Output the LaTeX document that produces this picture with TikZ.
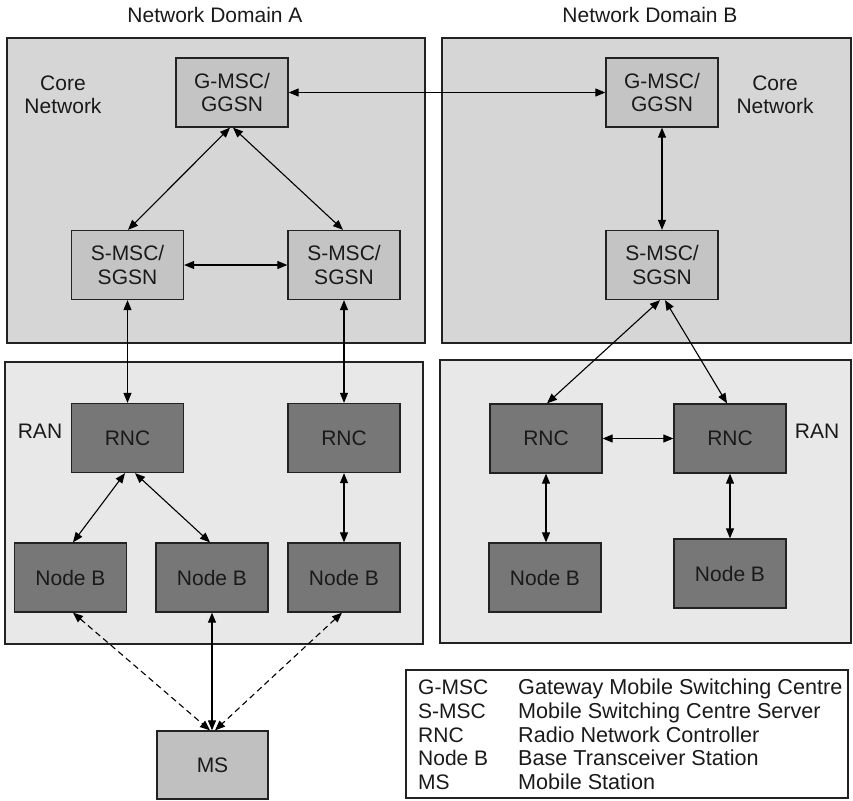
\documentclass[tikz,border=0pt]{standalone}
\usepackage{fontspec}
\setmainfont{Liberation Sans}
\usetikzlibrary{arrows.meta}

\definecolor{corebg}{HTML}{D6D6D6}
\definecolor{ranbg}{HTML}{E8E8E8}
\definecolor{corenode}{HTML}{C4C4C4}
\definecolor{rannode}{HTML}{777777}
\definecolor{msnode}{HTML}{C0C0C0}
\definecolor{edge}{HTML}{222222}
\definecolor{ink}{HTML}{1A1A1A}

\begin{document}
\begin{tikzpicture}[x=1pt,y=-1pt,
  font=\fontsize{21}{23.5}\selectfont, text=ink,
  area/.style={draw=edge, line width=1.3pt},
  box/.style={draw=edge, line width=1.3pt, minimum width=112pt,
    minimum height=69pt, inner sep=0pt, align=center},
  corebox/.style={box, fill=corenode},
  ranbox/.style={box, fill=rannode},
  msbox/.style={box, fill=msnode, minimum width=111pt, minimum height=68pt},
  caption/.style={inner sep=0pt, align=center},
  tip/.tip={Triangle[length=10pt,width=8pt]},
  link/.style={draw=black, line width=1.1pt, tip-tip},
  radio/.style={link, dash pattern=on 6pt off 4pt},
  legtext/.style={anchor=base west, inner sep=0pt},
]
\useasboundingbox (0,0) rectangle (853,800);

% domain areas: core network above, radio access network below
\path[area, fill=corebg] (7,38) rectangle (425,343);
\path[area, fill=corebg] (442,38) rectangle (851,343);
\path[area, fill=ranbg] (5,362) rectangle (423,644);
\path[area, fill=ranbg] (440,360) rectangle (851,643);

% headings and area labels
\node[caption] (domA) at (215,15) {Network Domain A};
\node[caption] (domB) at (650,15) {Network Domain B};
\node[caption] (coreA) at (63,95) {Core\\Network};
\node[caption] (coreB) at (775,95) {Core\\Network};
\node[caption] (ranA) at (40,431) {RAN};
\node[caption] (ranB) at (817,431) {RAN};

% domain A
\node[corebox] (gA) at (232,92.5) {G-MSC/\\GGSN};
\node[corebox] (sA1) at (127.5,265) {S-MSC/\\SGSN};
\node[corebox] (sA2) at (344,265) {S-MSC/\\SGSN};
\node[ranbox] (rA1) at (127.5,438) {RNC};
\node[ranbox] (rA2) at (344,438) {RNC};
\node[ranbox] (nA1) at (70.5,577.5) {Node B};
\node[ranbox] (nA2) at (212,577.5) {Node B};
\node[ranbox] (nA3) at (344,577.5) {Node B};

% domain B
\node[corebox] (gB) at (662,92.5) {G-MSC/\\GGSN};
\node[corebox] (sB) at (662,265) {S-MSC/\\SGSN};
\node[ranbox] (rB1) at (546,438.5) {RNC};
\node[ranbox] (rB2) at (730,438.5) {RNC};
\node[ranbox] (nB1) at (545,577.5) {Node B};
\node[ranbox] (nB2) at (730,573.5) {Node B};

% mobile station
\node[msbox] (ms) at (212.5,765) {MS};

% core links
\draw[link] (gA.east) -- (gB.west);
\draw[link] ([xshift=-2pt]gA.south) -- ([xshift=0.5pt]sA1.north);
\draw[link] ([xshift=1pt]gA.south) -- ([xshift=-1pt]sA2.north);
\draw[link] (sA1.east) -- (sA2.west);
\draw[link] (gB.south) -- (sB.north);

% core to radio access links
\draw[link] (sA1.south) -- (rA1.north);
\draw[link] (sA2.south) -- (rA2.north);
\draw[link] ([xshift=-2pt]sB.south) -- ([xshift=1pt]rB1.north);
\draw[link] ([xshift=3pt]sB.south) -- ([xshift=-3pt]rB2.north);

% controller to base station links
\draw[link] ([xshift=-2.5pt]rA1.south) -- ([xshift=2.5pt]nA1.north);
\draw[link] ([xshift=7.5pt]rA1.south) -- ([xshift=-2pt]nA2.north);
\draw[link] (rA2.south) -- (nA3.north);
\draw[link] (rB1.east) -- (rB2.west);
\draw[link] (rB1.south) -- ([xshift=1pt]nB1.north);
\draw[link] (rB2.south) -- (nB2.north);

% radio links to the mobile station
\draw[radio] ([xshift=2.5pt]nA1.south) -- ([xshift=-2.5pt]ms.north);
\draw[link] (nA2.south) -- ([xshift=-0.5pt]ms.north);
\draw[radio] ([xshift=-2pt]nA3.south) -- ([xshift=2.5pt]ms.north);

% legend
\node[draw=edge, line width=1.3pt, fill=white, minimum width=442pt,
  minimum height=128pt, inner sep=0pt] (legend) at (627,734) {};
\node[legtext] (ab1) at (418,694.5) {G-MSC};
\node[legtext] (ab2) at (418,718.2) {S-MSC};
\node[legtext] (ab3) at (418,742) {RNC};
\node[legtext] (ab4) at (418,765.7) {Node B};
\node[legtext] (ab5) at (418,789.4) {MS};
\begin{scope}[font=\fontsize{21.6}{24}\selectfont]
\node[legtext] (de1) at (518,694.5) {Gateway Mobile Switching Centre};
\node[legtext] (de2) at (518,718.2) {Mobile Switching Centre Server};
\node[legtext] (de3) at (518,742) {Radio Network Controller};
\node[legtext] (de4) at (518,765.7) {Base Transceiver Station};
\node[legtext] (de5) at (518,789.4) {Mobile Station};
\end{scope}
\end{tikzpicture}
\end{document}
